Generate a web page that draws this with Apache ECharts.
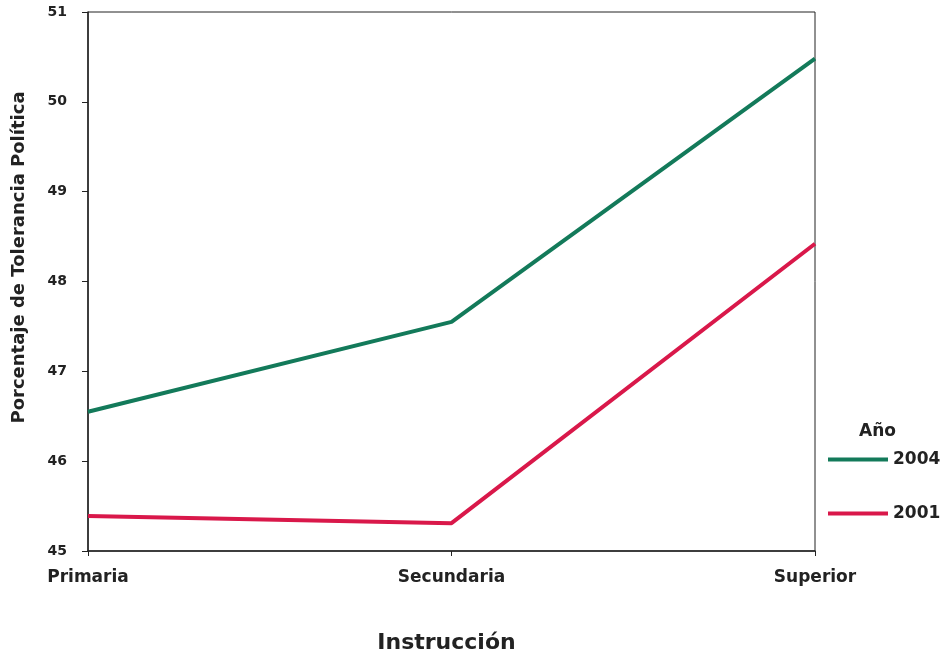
<!DOCTYPE html>
<html>
<head>
<meta charset="utf-8">
<script src="https://cdn.jsdelivr.net/npm/echarts@6/dist/echarts.min.js"></script>
<style>
html,body{margin:0;padding:0;background:#fff;}
#chart{width:949px;height:653px;}
</style>
</head>
<body>
<div id="chart"></div>
<script>
var categories = ['Primaria', 'Secundaria', 'Superior'];
var values2004 = [46.55, 47.55, 50.48];
var values2001 = [45.39, 45.31, 48.42];
var yMin = 45, yMax = 51, yInterval = 1;

var font = '"DejaVu Sans", Verdana, sans-serif';
var chart = echarts.init(document.getElementById('chart'));
chart.setOption({
  backgroundColor: '#ffffff',
  animation: false,
  title: {
    text: 'Año',
    left: 854, top: 418,
    textStyle: {fontFamily: font, fontWeight: 'bold', fontSize: 17, color: '#222'}
  },
  legend: {
    orient: 'vertical',
    left: 823, top: 446,
    itemWidth: 60, itemHeight: 4, itemGap: 37,
    icon: 'rect',
    data: ['2004', '2001'],
    textStyle: {fontFamily: font, fontWeight: 'bold', fontSize: 17, color: '#222'}
  },
  grid: {
    left: 88, right: 134, top: 12, bottom: 102,
    outerBoundsMode: 'none',
    containLabel: false,
    show: true, borderColor: '#222', borderWidth: 1, backgroundColor: 'transparent'
  },
  xAxis: {
    type: 'category',
    data: categories,
    boundaryGap: false,
    name: 'Instrucción',
    nameLocation: 'middle',
    nameGap: 81,
    nameTextStyle: {fontFamily: font, fontWeight: 'bold', fontSize: 22, color: '#222', padding: [0, 10, 0, 0]},
    axisLine: {lineStyle: {color: '#222', width: 1.5}},
    axisTick: {show: true, length: 5, lineStyle: {color: '#222'}},
    axisLabel: {fontFamily: font, fontWeight: 'bold', fontSize: 17, color: '#222', margin: 18},
    splitLine: {show: false}
  },
  yAxis: {
    type: 'value',
    min: yMin, max: yMax, interval: yInterval,
    name: 'Porcentaje de Tolerancia Política',
    nameLocation: 'middle',
    nameGap: 60,
    nameRotate: 90,
    nameTextStyle: {fontFamily: font, fontWeight: 'bold', fontSize: 18, color: '#222', padding: [0, 0, 0, 48]},
    axisLine: {show: true, lineStyle: {color: '#222', width: 1.5}},
    axisTick: {show: true, length: 6, lineStyle: {color: '#222'}},
    axisLabel: {fontFamily: font, fontWeight: 'bold', fontSize: 14, color: '#222', margin: 21},
    splitLine: {show: false}
  },
  series: [
    {name: '2004', type: 'line', data: values2004, symbol: 'none',
     lineStyle: {color: '#137a5a', width: 4}, itemStyle: {color: '#137a5a'}},
    {name: '2001', type: 'line', data: values2001, symbol: 'none',
     lineStyle: {color: '#d9184a', width: 4}, itemStyle: {color: '#d9184a'}}
  ]
});
</script>
</body>
</html>
